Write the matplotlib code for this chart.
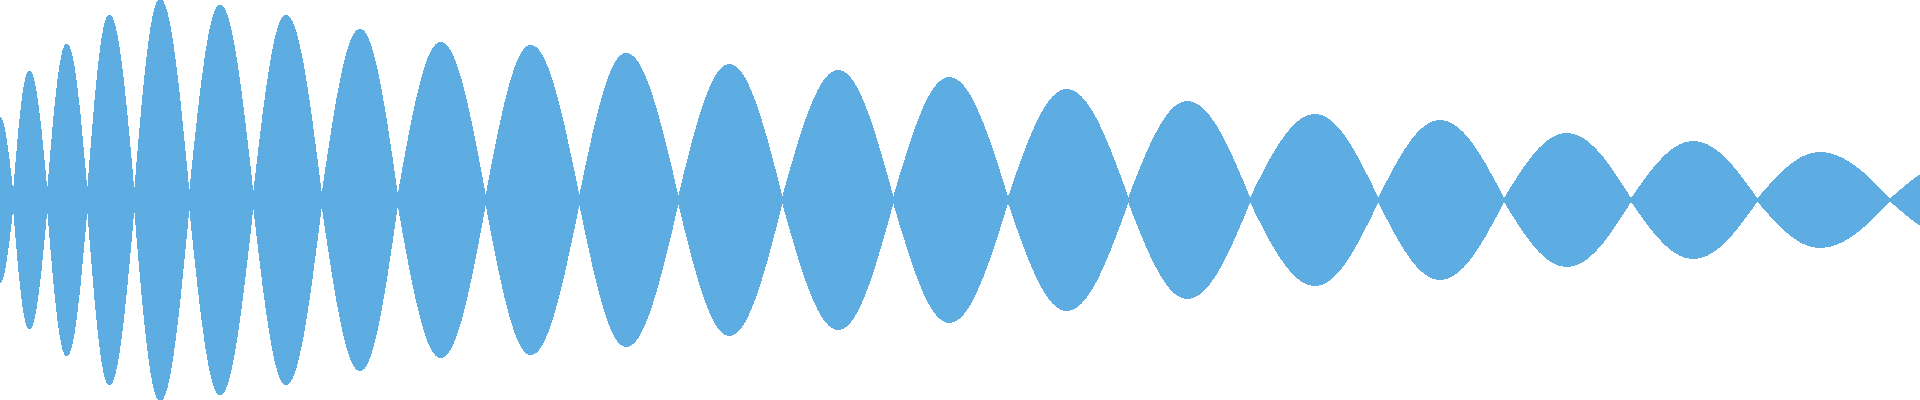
import matplotlib
matplotlib.use("Agg")
import matplotlib.pyplot as plt
from matplotlib.path import Path
from matplotlib.patches import PathPatch

# 파형 외곽 — 영점 교차 위치, 각 봉우리의 위치와 진폭(최대 1.0)
crossings = [-16, 13.3, 47.3, 87.3, 134.3, 189.3, 253.3, 321.7, 397.7,
             485.7, 579.3, 678.3, 782.3, 893.3, 1008, 1128.3, 1250,
             1378.3, 1504, 1631, 1757.3, 1890, 2025]
peak_x = [-1, 29.3, 66.7, 109.3, 160, 220, 286, 360, 440.7, 530.7, 626,
          729.3, 838.3, 949.3, 1066.7, 1187.3, 1315, 1440, 1566.7,
          1693.3, 1820, 1957]
peak_amp = [0.415, 0.64, 0.775, 0.92, 1.0, 0.97, 0.92, 0.85, 0.785, 0.77,
            0.73, 0.675, 0.645, 0.61, 0.55, 0.49, 0.425, 0.395, 0.33,
            0.29, 0.235, 0.19]

COLOR = "#5dade2"
# 1/4 사인파를 근사하는 베지어 제어점 비율
K1, K2, K3 = 0.3343, 0.5251, 0.6498


def lobe_path(x0, xp, x1, a):
    """영점 x0 → 봉우리 xp → 영점 x1, 위아래 대칭 닫힌 경로."""
    L, R = xp - x0, x1 - xp
    verts = [(x0, 0),
             (x0 + K1 * L, K2 * a), (x0 + K3 * L, a), (xp, a),
             (xp + (1 - K3) * R, a), (xp + (1 - K1) * R, K2 * a), (x1, 0),
             (xp + (1 - K1) * R, -K2 * a), (xp + (1 - K3) * R, -a), (xp, -a),
             (x0 + K3 * L, -a), (x0 + K1 * L, -K2 * a), (x0, 0),
             (x0, 0)]
    codes = ([Path.MOVETO] + [Path.CURVE4] * 12 + [Path.CLOSEPOLY])
    return Path(verts, codes)


fig = plt.figure(figsize=(19.2, 4), dpi=100)
ax = fig.add_axes([0, 0, 1, 1])
for i, (xp, a) in enumerate(zip(peak_x, peak_amp)):
    ax.add_patch(PathPatch(lobe_path(crossings[i], xp, crossings[i + 1], a),
                           facecolor=COLOR, edgecolor=COLOR, lw=0.5,
                           antialiased=False))
ax.set_xlim(0, 1920)
ax.set_ylim(-1.0, 1.0)
ax.axis("off")
fig.savefig("out.png", dpi=100, facecolor="white")
